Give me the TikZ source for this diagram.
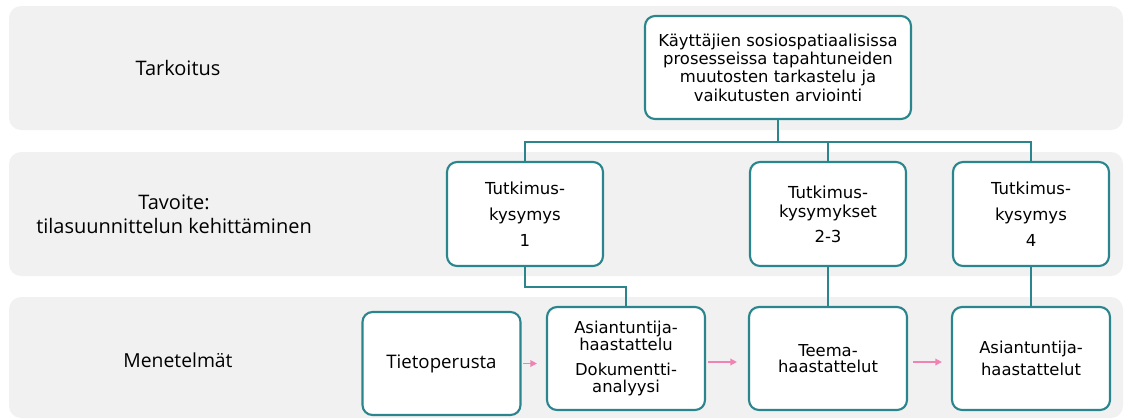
\documentclass[tikz,border=0pt]{standalone}
\usepackage{fontspec}
\setmainfont{DejaVu Sans}
\newfontfamily\labelfont{Open Sans}
\usetikzlibrary{arrows.meta}
\definecolor{bandgray}{RGB}{241,241,241}
\definecolor{tealc}{RGB}{42,133,140}
\definecolor{pinkc}{RGB}{240,130,180}
\begin{document}
\begin{tikzpicture}[x=0.75pt,y=-0.75pt,
  band/.style={fill=bandgray, draw=none, rounded corners=9pt},
  box/.style={draw=tealc, line width=1.6pt, fill=white, rounded corners=7.5pt, align=center, inner sep=0pt},
  topbox/.style={box, minimum width=199.5pt, minimum height=77.25pt, font=\fontsize{12.3}{13.8}\selectfont},
  qbox/.style={box, minimum width=117pt, minimum height=78pt, font=\fontsize{12.4}{19.5}\selectfont},
  mbox/.style={box, minimum width=118.5pt, minimum height=77.25pt, font=\fontsize{12.3}{12.75}\selectfont},
  conn/.style={draw=tealc, line width=1.6pt},
  flow/.style={draw=pinkc, line width=1.1pt, -{Triangle[length=5pt,width=5pt]}},
  lbl/.style={font=\labelfont\fontsize{15}{18}\selectfont, align=center}]
\useasboundingbox (0,0) rectangle (1128,419);
% bands
\path[band] (9,6) rectangle (1123,130);
\path[band] (9,152) rectangle (1123,276);
\path[band] (9,297) rectangle (1123,418);
% labels
\node[lbl] (l1) at (178,68) {Tarkoitus};
\node[lbl] (l2) at (174,214) {Tavoite:\\tilasuunnittelun kehittäminen};
\node[lbl, font=\labelfont\fontsize{14.5}{17}\selectfont] (l3) at (178,360) {Menetelmät};
% boxes
\node[topbox] (top) at (778,67.5) {Käyttäjien sosiospatiaalisissa\\prosesseissa tapahtuneiden\\muutosten tarkastelu ja\\vaikutusten arviointi};
\node[qbox] (B1) at (525,214) {Tutkimus-\\kysymys\\1};
\node[qbox, font=\fontsize{12.4}{14.25}\selectfont] (B2) at (828,214) {Tutkimus-\\kysymykset\\[4.5pt]2-3};
\node[qbox] (B3) at (1031,214) {Tutkimus-\\kysymys\\4};
\node[mbox, font=\labelfont\fontsize{14}{16}\selectfont] (M1) at (441.5,363.5) {Tietoperusta};
\node[mbox] (M2) at (626,358.5) {Asiantuntija-\\haastattelu\\[5.5pt]Dokumentti-\\analyysi};
\node[mbox, font=\fontsize{12.3}{12.5}\selectfont] (M3) at (828,358.5) {Teema-\\haastattelut};
\node[mbox, font=\fontsize{12.3}{17}\selectfont] (M4) at (1031,358.5) {Asiantuntija-\\haastattelut};
% connectors
\coordinate (hj) at (778,142);
\coordinate (kj) at (626,287);
\draw[conn] (top.south) -- (hj);
\draw[conn] (B1.north) -- (B1.north |- hj) -- (B3.north |- hj) -- (B3.north);
\draw[conn] (B2.north |- hj) -- (B2.north);
\draw[conn] (B1.south) -- (B1.south |- kj) -- (kj) -- (M2.north);
\draw[conn] (B2.south) -- (M3.north);
\draw[conn] (B3.south) -- (M4.north);
% flow arrows
\draw[flow] ([shift={(1.5,0)}]M1.east) -- ([shift={(-9,5)}]M2.west);
\draw[flow] ([shift={(2,3.5)}]M2.east) -- ([shift={(-11,3.5)}]M3.west);
\draw[flow] ([shift={(5,3.5)}]M3.east) -- ([shift={(-9,3.5)}]M4.west);
\end{tikzpicture}
\end{document}
